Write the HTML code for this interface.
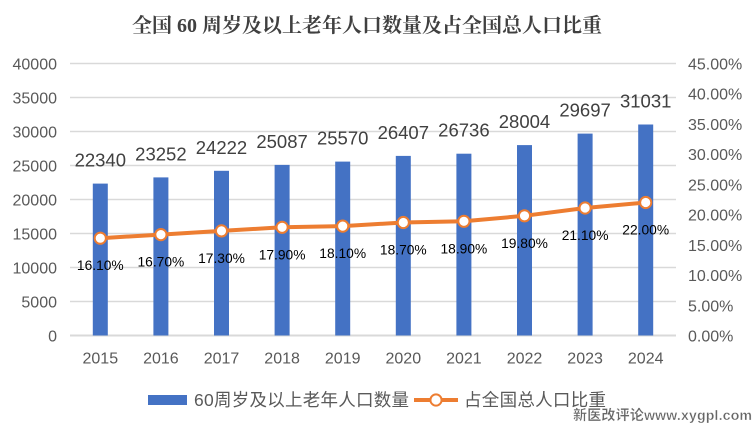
<!DOCTYPE html>
<html><head><meta charset="utf-8"><style>
html,body{margin:0;padding:0;background:#fff;}
svg{display:block;}
</style></head><body>
<svg width="753" height="423" viewBox="0 0 753 423" xmlns="http://www.w3.org/2000/svg">
<rect width="753" height="423" fill="#fff"/>
<text x="132" y="32" textLength="470" lengthAdjust="spacing" font-family="'Liberation Serif','Noto Serif CJK SC',serif" font-weight="bold" font-size="20" fill="#404040">全国 60 周岁及以上老年人口数量及占全国总人口比重</text>
<g stroke="#d9d9d9" stroke-width="1.5">
<line x1="70" x2="676" y1="63.5" y2="63.5"/>
<line x1="70" x2="676" y1="97.5" y2="97.5"/>
<line x1="70" x2="676" y1="131.5" y2="131.5"/>
<line x1="70" x2="676" y1="165.5" y2="165.5"/>
<line x1="70" x2="676" y1="199.5" y2="199.5"/>
<line x1="70" x2="676" y1="233.5" y2="233.5"/>
<line x1="70" x2="676" y1="267.5" y2="267.5"/>
<line x1="70" x2="676" y1="301.5" y2="301.5"/>
<line x1="70" x2="676" y1="335.5" y2="335.5" stroke-width="2"/>
</g>
<g font-family="'Liberation Sans',sans-serif" font-size="16" fill="#595959" text-anchor="end">
<text x="57" y="69.5">40000</text>
<text x="57" y="103.5">35000</text>
<text x="57" y="137.5">30000</text>
<text x="57" y="171.5">25000</text>
<text x="57" y="205.5">20000</text>
<text x="57" y="239.5">15000</text>
<text x="57" y="273.5">10000</text>
<text x="57" y="307.5">5000</text>
<text x="57" y="341.5">0</text>
</g>
<g font-family="'Liberation Sans',sans-serif" font-size="16" fill="#595959">
<text x="688" y="69.5">45.00%</text>
<text x="688" y="99.7">40.00%</text>
<text x="688" y="129.9">35.00%</text>
<text x="688" y="160.2">30.00%</text>
<text x="688" y="190.4">25.00%</text>
<text x="688" y="220.6">20.00%</text>
<text x="688" y="250.8">15.00%</text>
<text x="688" y="281.1">10.00%</text>
<text x="688" y="311.3">5.00%</text>
<text x="688" y="341.5">0.00%</text>
</g>
<g fill="#4472c4">
<rect x="92.8" y="183.6" width="15" height="151.9"/>
<rect x="153.4" y="177.4" width="15" height="158.1"/>
<rect x="214" y="170.8" width="15" height="164.7"/>
<rect x="274.6" y="164.9" width="15" height="170.6"/>
<rect x="335.2" y="161.6" width="15" height="173.9"/>
<rect x="395.8" y="155.9" width="15" height="179.6"/>
<rect x="456.4" y="153.7" width="15" height="181.8"/>
<rect x="517" y="145.1" width="15" height="190.4"/>
<rect x="577.6" y="133.6" width="15" height="201.9"/>
<rect x="638.2" y="124.5" width="15" height="211"/>
</g>
<g font-family="'Liberation Sans',sans-serif" font-size="18.5" fill="#404040" text-anchor="middle">
<text x="100.3" y="166.6">22340</text>
<text x="160.9" y="160.4">23252</text>
<text x="221.5" y="153.8">24222</text>
<text x="282.1" y="147.9">25087</text>
<text x="342.7" y="144.6">25570</text>
<text x="403.3" y="138.9">26407</text>
<text x="463.9" y="136.7">26736</text>
<text x="524.5" y="128.1">28004</text>
<text x="585.1" y="116.6">29697</text>
<text x="645.7" y="107.5">31031</text>
</g>
<polyline fill="none" stroke="#ed7d31" stroke-width="4" stroke-linejoin="round" points="100.3,238.2 160.9,234.6 221.5,230.9 282.1,227.3 342.7,226.1 403.3,222.5 463.9,221.3 524.5,215.8 585.1,208 645.7,202.5"/>
<g fill="#fff" stroke="#ed7d31" stroke-width="2">
<circle cx="100.3" cy="238.2" r="5.6"/>
<circle cx="160.9" cy="234.6" r="5.6"/>
<circle cx="221.5" cy="230.9" r="5.6"/>
<circle cx="282.1" cy="227.3" r="5.6"/>
<circle cx="342.7" cy="226.1" r="5.6"/>
<circle cx="403.3" cy="222.5" r="5.6"/>
<circle cx="463.9" cy="221.3" r="5.6"/>
<circle cx="524.5" cy="215.8" r="5.6"/>
<circle cx="585.1" cy="208" r="5.6"/>
<circle cx="645.7" cy="202.5" r="5.6"/>
</g>
<g font-family="'Liberation Sans',sans-serif" font-size="13.8" fill="#000" text-anchor="middle">
<text x="100.3" y="270.2">16.10%</text>
<text x="160.9" y="266.6">16.70%</text>
<text x="221.5" y="262.9">17.30%</text>
<text x="282.1" y="259.3">17.90%</text>
<text x="342.7" y="258.1">18.10%</text>
<text x="403.3" y="254.5">18.70%</text>
<text x="463.9" y="253.3">18.90%</text>
<text x="524.5" y="247.8">19.80%</text>
<text x="585.1" y="240">21.10%</text>
<text x="645.7" y="234.5">22.00%</text>
</g>
<g font-family="'Liberation Sans',sans-serif" font-size="16" fill="#595959" text-anchor="middle">
<text x="100.3" y="363.5">2015</text>
<text x="160.9" y="363.5">2016</text>
<text x="221.5" y="363.5">2017</text>
<text x="282.1" y="363.5">2018</text>
<text x="342.7" y="363.5">2019</text>
<text x="403.3" y="363.5">2020</text>
<text x="463.9" y="363.5">2021</text>
<text x="524.5" y="363.5">2022</text>
<text x="585.1" y="363.5">2023</text>
<text x="645.7" y="363.5">2024</text>
</g>
<rect x="148" y="395" width="39" height="10" fill="#4472c4"/>
<text x="194" y="406" textLength="215" lengthAdjust="spacing" font-family="'Liberation Sans','Noto Sans CJK SC',sans-serif" font-size="17.5" fill="#595959">60周岁及以上老年人口数量</text>
<line x1="414" x2="458" y1="400" y2="400" stroke="#ed7d31" stroke-width="4"/>
<circle cx="436" cy="400" r="5.6" fill="#fff" stroke="#ed7d31" stroke-width="2"/>
<text x="464" y="406" textLength="142" lengthAdjust="spacing" font-family="'Liberation Sans','Noto Sans CJK SC',sans-serif" font-size="17.5" fill="#595959">占全国总人口比重</text>
<text x="573" y="420" textLength="179" lengthAdjust="spacing" font-family="'Liberation Sans','Noto Sans CJK SC',sans-serif" font-size="14" font-weight="bold" fill="#666" stroke="#fff" stroke-width="0.3">新医改评论www.xygpl.com</text>
</svg>
</body></html>
